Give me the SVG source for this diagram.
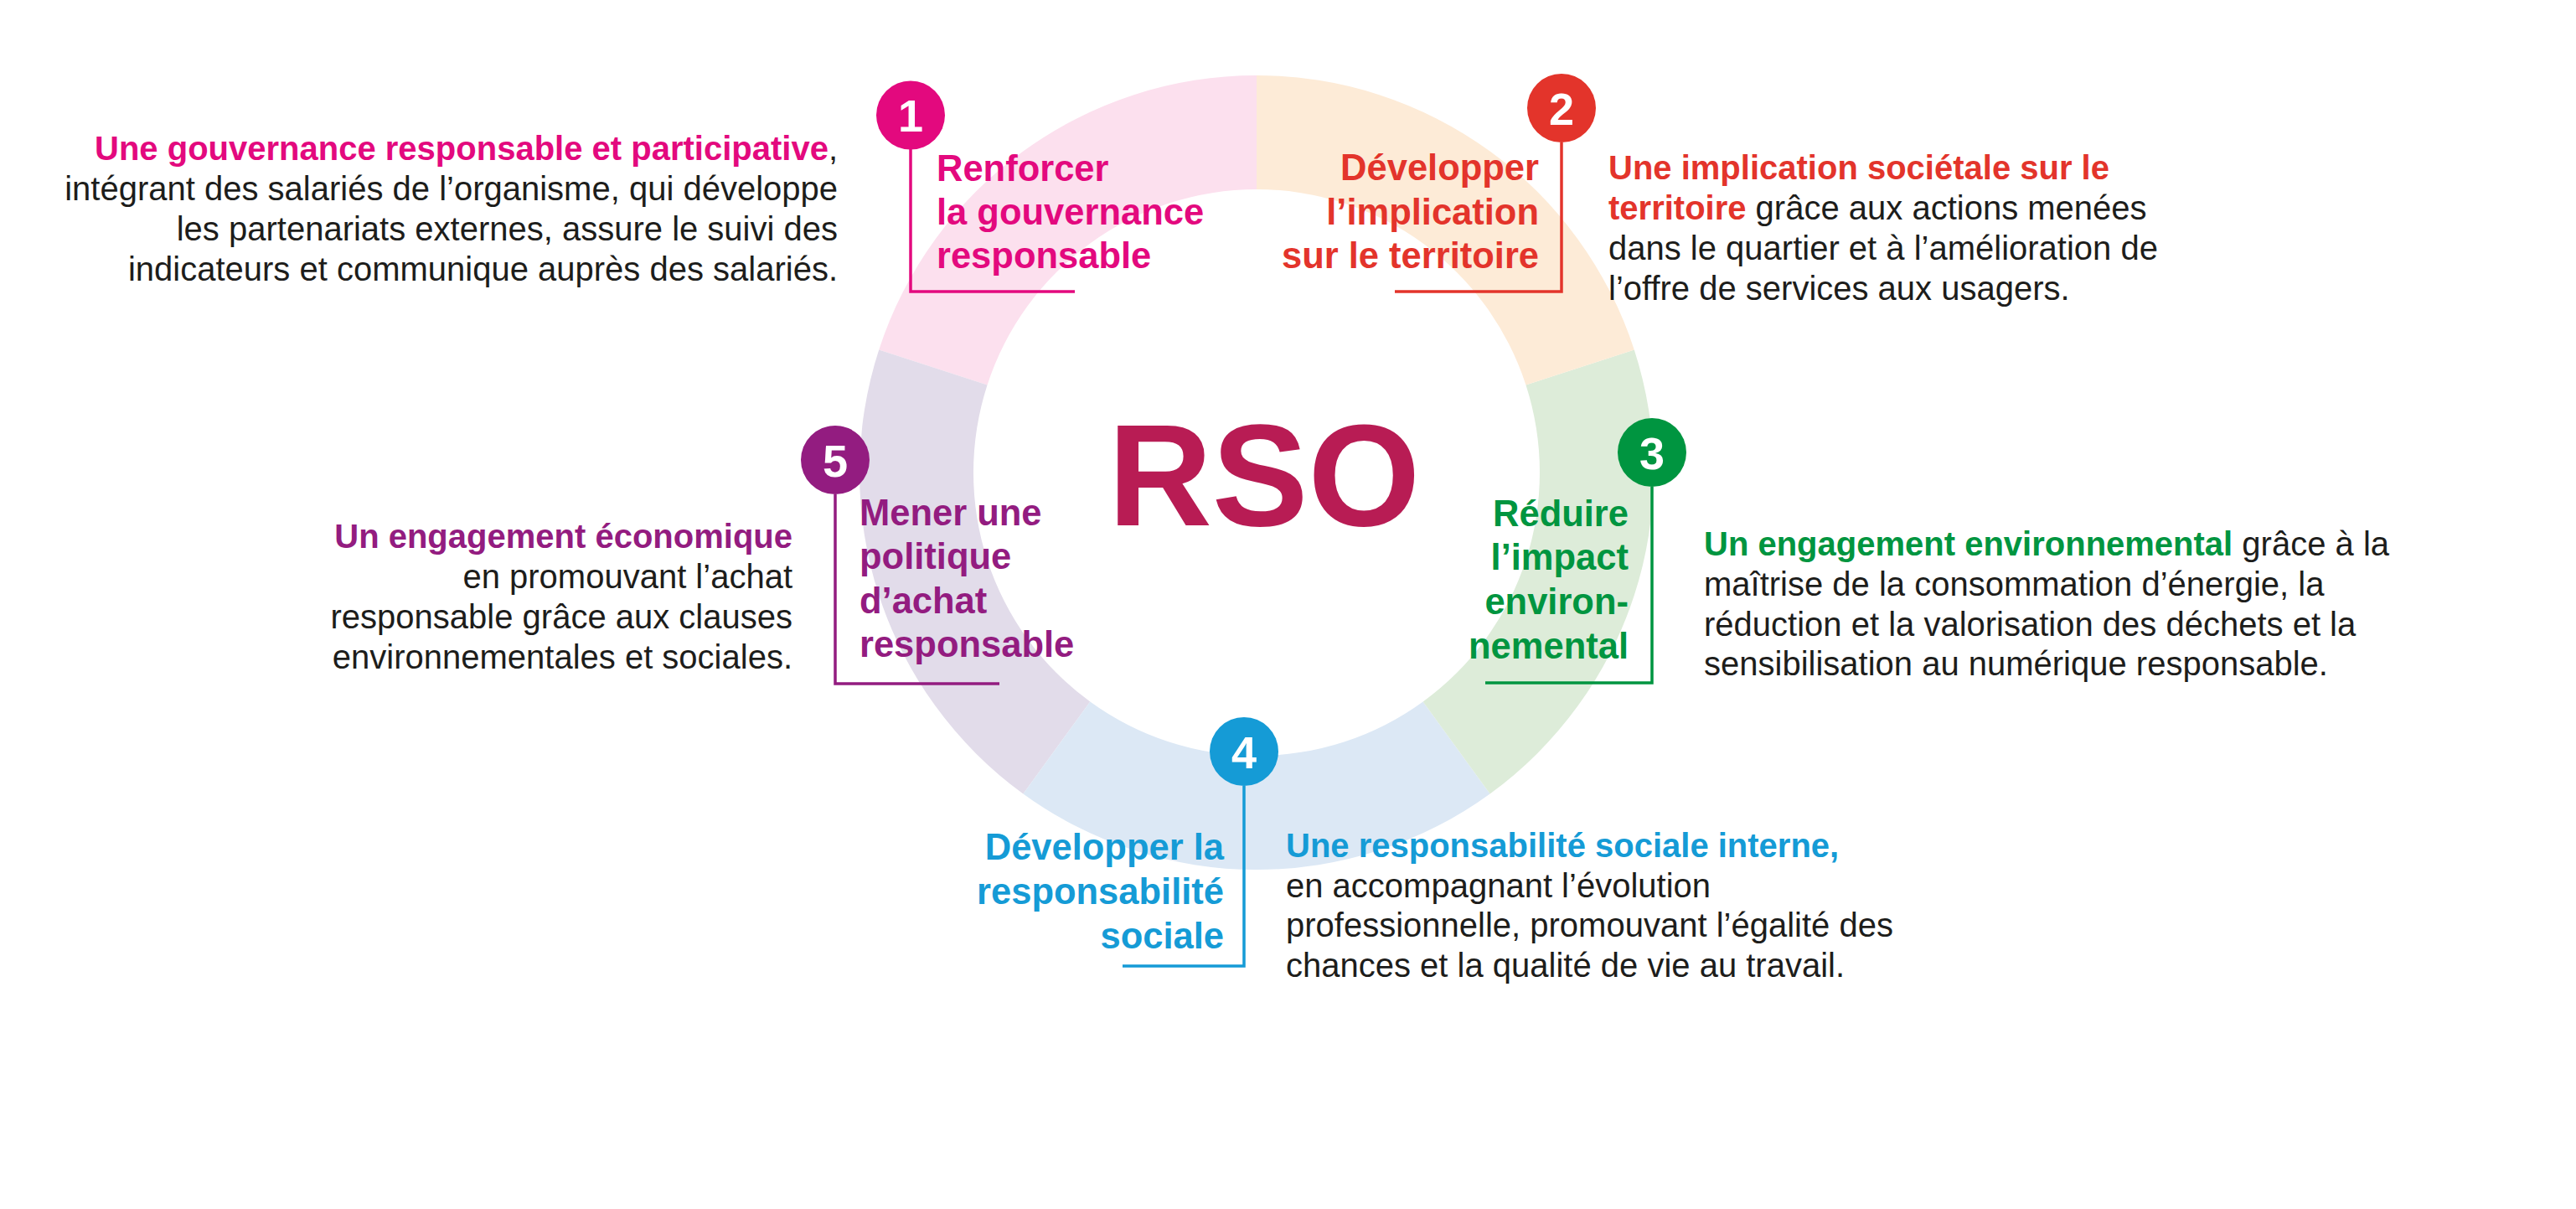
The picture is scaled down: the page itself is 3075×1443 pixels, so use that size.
<svg xmlns="http://www.w3.org/2000/svg" width="3075" height="1443" viewBox="0 0 3075 1443">
<style>
.t{font-family:"Liberation Sans",Arial,sans-serif;font-weight:bold;font-size:43.5px}
.b{font-family:"Liberation Sans",Arial,sans-serif;font-size:40px;fill:#1d1d1b}
.bb{font-weight:bold}
.d{font-family:"Liberation Sans",Arial,sans-serif;font-weight:bold;font-size:54px;fill:#fff;text-anchor:middle}
.end{text-anchor:end}
.ln{fill:none;stroke-width:3.5}
</style>
<rect width="3075" height="1443" fill="#fff"/>
<g id="ring">
<path d="M1500 90 A474 474 0 0 0 1049.20 417.53 L1178.54 459.55 A338 338 0 0 1 1500 226 Z" fill="#fce0ee"/>
<path d="M1049.20 417.53 A474 474 0 0 0 1221.39 947.47 L1301.33 837.45 A338 338 0 0 1 1178.54 459.55 Z" fill="#e2dcea"/>
<path d="M1221.39 947.47 A474 474 0 0 0 1778.61 947.47 L1698.67 837.45 A338 338 0 0 1 1301.33 837.45 Z" fill="#dce8f5"/>
<path d="M1778.61 947.47 A474 474 0 0 0 1950.80 417.53 L1821.46 459.55 A338 338 0 0 1 1698.67 837.45 Z" fill="#ddecd9"/>
<path d="M1950.80 417.53 A474 474 0 0 0 1500 90 L1500 226 A338 338 0 0 1 1821.46 459.55 Z" fill="#fdebd7"/>
</g>
<g id="rso">
<text x="1509" y="627" font-family="Liberation Sans, Arial, sans-serif" font-weight="bold" font-size="172" fill="#b81c54" text-anchor="middle">RSO</text>
</g>
<g id="connectors">
<path class="ln" stroke="#e3097e" d="M1087 178 V348 H1283"/>
<path class="ln" stroke="#e3342b" d="M1864 170 V348 H1665"/>
<path class="ln" stroke="#009540" d="M1972 581 V815 H1773"/>
<path class="ln" stroke="#159bd6" d="M1485 938 V1153 H1340"/>
<path class="ln" stroke="#931c80" d="M997 590 V816 H1193"/>
</g>
<g id="node1">
<circle cx="1087" cy="137.5" r="41" fill="#e3097e"/>
<text class="d" x="1087" y="157">1</text>
<text class="t" fill="#e3097e"><tspan x="1118" y="216">Renforcer</tspan><tspan x="1118" y="268">la gouvernance</tspan><tspan x="1118" y="320">responsable</tspan></text>
<text class="b end"><tspan x="1000" y="191"><tspan class="bb" fill="#e3097e">Une gouvernance responsable et participative</tspan>,</tspan><tspan x="1000" y="239">intégrant des salariés de l’organisme, qui développe</tspan><tspan x="1000" y="287">les partenariats externes, assure le suivi des</tspan><tspan x="1000" y="335">indicateurs et communique auprès des salariés.</tspan></text>
</g>
<g id="node2">
<circle cx="1864" cy="129" r="41" fill="#e3342b"/>
<text class="d" x="1864" y="148.5">2</text>
<text class="t end" fill="#e3342b"><tspan x="1837" y="215">Développer</tspan><tspan x="1837" y="268">l’implication</tspan><tspan x="1837" y="320">sur le territoire</tspan></text>
<text class="b"><tspan x="1920" y="214" class="bb" fill="#e3342b">Une implication sociétale sur le</tspan><tspan x="1920" y="262"><tspan class="bb" fill="#e3342b">territoire</tspan> grâce aux actions menées</tspan><tspan x="1920" y="310">dans le quartier et à l’amélioration de</tspan><tspan x="1920" y="358">l’offre de services aux usagers.</tspan></text>
</g>
<g id="node3">
<circle cx="1972" cy="540" r="41" fill="#009540"/>
<text class="d" x="1972" y="560">3</text>
<text class="t end" fill="#009540"><tspan x="1944" y="628">Réduire</tspan><tspan x="1944" y="680">l’impact</tspan><tspan x="1944" y="733">environ-</tspan><tspan x="1944" y="786">nemental</tspan></text>
<text class="b"><tspan x="2034" y="663"><tspan class="bb" fill="#009540">Un engagement environnemental</tspan> grâce à la</tspan><tspan x="2034" y="711">maîtrise de la consommation d’énergie, la</tspan><tspan x="2034" y="759">réduction et la valorisation des déchets et la</tspan><tspan x="2034" y="806">sensibilisation au numérique responsable.</tspan></text>
</g>
<g id="node4">
<circle cx="1485" cy="897" r="41" fill="#159bd6"/>
<text class="d" x="1485" y="917">4</text>
<text class="t end" fill="#159bd6"><tspan x="1461" y="1026">Développer la</tspan><tspan x="1461" y="1079">responsabilité</tspan><tspan x="1461" y="1132">sociale</tspan></text>
<text class="b"><tspan x="1535" y="1023" class="bb" fill="#159bd6">Une responsabilité sociale interne,</tspan><tspan x="1535" y="1071">en accompagnant l’évolution</tspan><tspan x="1535" y="1118">professionnelle, promouvant l’égalité des</tspan><tspan x="1535" y="1166">chances et la qualité de vie au travail.</tspan></text>
</g>
<g id="node5">
<circle cx="997" cy="549" r="41" fill="#931c80"/>
<text class="d" x="997" y="569">5</text>
<text class="t" fill="#931c80"><tspan x="1026" y="627">Mener une</tspan><tspan x="1026" y="679">politique</tspan><tspan x="1026" y="732">d’achat</tspan><tspan x="1026" y="784">responsable</tspan></text>
<text class="b end"><tspan x="946" y="654" class="bb" fill="#931c80">Un engagement économique</tspan><tspan x="946" y="702">en promouvant l’achat</tspan><tspan x="946" y="750">responsable grâce aux clauses</tspan><tspan x="946" y="798">environnementales et sociales.</tspan></text>
</g>
</svg>
